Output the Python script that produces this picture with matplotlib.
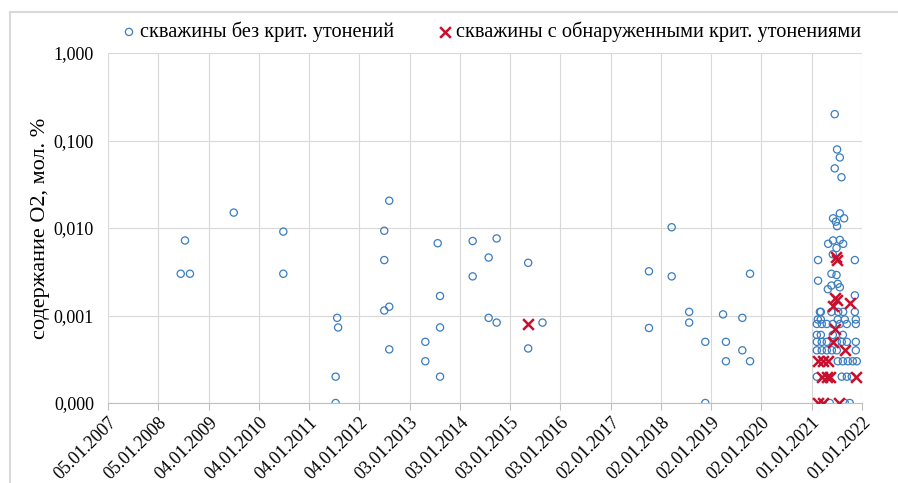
import matplotlib
matplotlib.use("Agg")
import matplotlib.pyplot as plt
import matplotlib.dates as mdates
from matplotlib.ticker import FixedLocator, FuncFormatter
from matplotlib.patches import Rectangle
import pandas as pd
import numpy as np

plt.rcParams['font.family'] = ['Liberation Serif', 'DejaVu Serif']

# wells without critical thinning
ok_dates = [
    "2008-06-16", "2008-07-17", "2008-08-22", "2009-07-06", "2010-07-01", "2010-07-01",
    "2011-07-16", "2011-07-16", "2011-07-27", "2011-08-03",
    "2012-07-03", "2012-07-03", "2012-07-03", "2012-08-08", "2012-08-08", "2012-08-08",
    "2013-04-27", "2013-04-27", "2013-07-26", "2013-08-12", "2013-08-12", "2013-08-12",
    "2014-04-06", "2014-04-06", "2014-07-31", "2014-07-31", "2014-09-27", "2014-09-27",
    "2015-05-14", "2015-05-14", "2015-08-26",
    "2017-10-07", "2017-10-07", "2018-03-21", "2018-03-21", "2018-07-26", "2018-07-26",
    "2018-11-20", "2018-11-20", "2019-03-29", "2019-04-19", "2019-04-19",
    "2019-08-16", "2019-08-16", "2019-10-11", "2019-10-11",
    # 2021
    "2021-06-17", "2021-07-04", "2021-07-24", "2021-06-17", "2021-08-05",
    "2021-07-24", "2021-06-05", "2021-08-24", "2021-06-25", "2021-07-04",
    "2021-04-30", "2021-06-05", "2021-07-24", "2021-08-17", "2021-06-30", "2021-06-03",
    "2021-02-16", "2021-11-10", "2021-05-24", "2021-06-30", "2021-02-16",
    "2021-05-24", "2021-07-24", "2021-04-28", "2021-07-09", "2021-11-10",
    "2021-03-01", "2021-03-08", "2021-05-24", "2021-07-12", "2021-08-17", "2021-11-10",
    "2021-02-14", "2021-03-08", "2021-07-09", "2021-08-29", "2021-11-17",
    "2021-02-07", "2021-03-15", "2021-04-20", "2021-06-03", "2021-07-24", "2021-09-13", "2021-11-17",
    "2021-02-07", "2021-03-08", "2021-06-03", "2021-08-15",
    "2021-02-07", "2021-03-15", "2021-04-20", "2021-07-02", "2021-08-07", "2021-09-13", "2021-11-17",
    "2021-02-07", "2021-03-15", "2021-04-20", "2021-05-27", "2021-07-02", "2021-11-17",
    "2021-07-09", "2021-08-15", "2021-09-20", "2021-10-26", "2021-11-24",
    "2021-02-07", "2021-08-07", "2021-09-13", "2021-10-19",
    "2021-05-12", "2021-08-29", "2021-10-04",
]
ok_vals = [
    0.003, 0.0072, 0.003, 0.015, 0.0091, 0.003,
    0.0002, 0.0001, 0.00094, 0.00073,
    0.0093, 0.0043, 0.00114, 0.0205, 0.00126, 0.00041,
    0.0005, 0.0003, 0.0067, 0.00167, 0.00073, 0.0002,
    0.0071, 0.0028, 0.0046, 0.00094, 0.0076, 0.00083,
    0.004, 0.00042, 0.00083,
    0.0032, 0.00072, 0.0102, 0.0028, 0.0011, 0.00083,
    0.0005, 0.0001, 0.00103, 0.0005, 0.0003,
    0.00094, 0.0004, 0.003, 0.0003,
    # 2021
    0.2, 0.079, 0.064, 0.048, 0.038,
    0.0147, 0.0129, 0.0129, 0.0118, 0.0105,
    0.0066, 0.0072, 0.0073, 0.0066, 0.0059, 0.005,
    0.0043, 0.0043, 0.003, 0.0029, 0.0025,
    0.0022, 0.0021, 0.002, 0.0023, 0.0017,
    0.0011, 0.0011, 0.0011, 0.0011, 0.0011, 0.0011,
    0.0009, 0.0009, 0.0009, 0.0009, 0.0009,
    0.0008, 0.0008, 0.0008, 0.0008, 0.0008, 0.0008, 0.0008,
    0.0006, 0.0006, 0.0006, 0.0006,
    0.0005, 0.0005, 0.0005, 0.0005, 0.0005, 0.0005, 0.0005,
    0.0004, 0.0004, 0.0004, 0.0004, 0.0004, 0.0004,
    0.0003, 0.0003, 0.0003, 0.0003, 0.0003,
    0.0002, 0.0002, 0.0002, 0.0002,
    0.0001, 0.0001, 0.0001,
]

# wells with detected critical thinning
crit_dates = [
    "2015-05-14",
    "2021-02-14", "2021-03-22", "2021-07-17",
    "2021-03-15", "2021-04-20", "2021-05-12", "2021-11-17",
    "2021-02-14", "2021-03-22", "2021-04-28",
    "2021-08-29", "2021-06-03", "2021-06-17",
    "2021-06-03", "2021-10-04", "2021-06-17", "2021-06-30",
    "2021-07-02", "2021-06-25",
]
crit_vals = [
    0.0008,
    0.0001, 0.0001, 0.0001,
    0.0002, 0.0002, 0.0002, 0.0002,
    0.0003, 0.0003, 0.0003,
    0.0004, 0.0005, 0.0007,
    0.00127, 0.0014, 0.0016, 0.0015,
    0.0043, 0.0047,
]

tick_start = pd.Timestamp("2007-01-05")
tick_dates = [tick_start + pd.Timedelta(days=365 * k) for k in range(16)]
y_ticks = [0.0001, 0.001, 0.01, 0.1, 1.0]

blue = '#3a7dc0'
red = '#c8102e'

fig = plt.figure(figsize=(8.98, 4.83), dpi=100)
ax = fig.add_axes([108 / 898, 1 - 403 / 483, (862 - 108) / 898, (403 - 53) / 483])

# light frame around the chart
fig.patches.append(Rectangle((10 / 898, -0.05), 1.2, 1 - 12 / 483 + 0.05, transform=fig.transFigure,
                             fill=False, edgecolor='#d9d9d9', linewidth=1.5))

ax.scatter(pd.to_datetime(ok_dates), ok_vals, s=27, facecolors='none', edgecolors=blue,
           linewidths=0.9, label='скважины без крит. утонений', zorder=3)
ax.scatter(pd.to_datetime(crit_dates), crit_vals, s=60, marker='x', color=red,
           linewidths=1.8, label='скважины с обнаруженными крит. утонениями', zorder=4)

ax.set_yscale('log')
ax.set_ylim(0.0001, 1.0)
ax.yaxis.set_major_locator(FixedLocator(y_ticks))
ax.yaxis.set_minor_locator(FixedLocator([]))
ax.yaxis.set_major_formatter(FuncFormatter(lambda v, p: f"{v:.3f}".replace('.', ',')))

ax.set_xlim(mdates.date2num(tick_dates[0]), mdates.date2num(tick_dates[-1]))
ax.set_xticks(mdates.date2num(tick_dates))
ax.set_xticklabels([d.strftime('%d.%m.%Y') for d in tick_dates], rotation=45, ha='right',
                   rotation_mode='anchor', fontsize=13)
ax.tick_params(axis='x', direction='out', length=5, color='#bfbfbf', pad=3)
ax.tick_params(axis='y', length=0, labelsize=13, pad=10)

ax.grid(True, color='#d9d9d9', linewidth=0.8)
ax.set_axisbelow(True)
for s in ['top', 'right', 'left']:
    ax.spines[s].set_visible(False)
ax.spines['bottom'].set_color('#bfbfbf')

ax.set_ylabel('содержание O2, мол. %', fontsize=16, labelpad=3)

leg = fig.legend(loc='center', bbox_to_anchor=(487 / 898, 1 - 32 / 483), ncol=2, frameon=False,
                 fontsize=14.6, handletextpad=-0.25, columnspacing=1.7, borderaxespad=0,
                 handlelength=1.6)

fig.savefig('out.png', dpi=100)
